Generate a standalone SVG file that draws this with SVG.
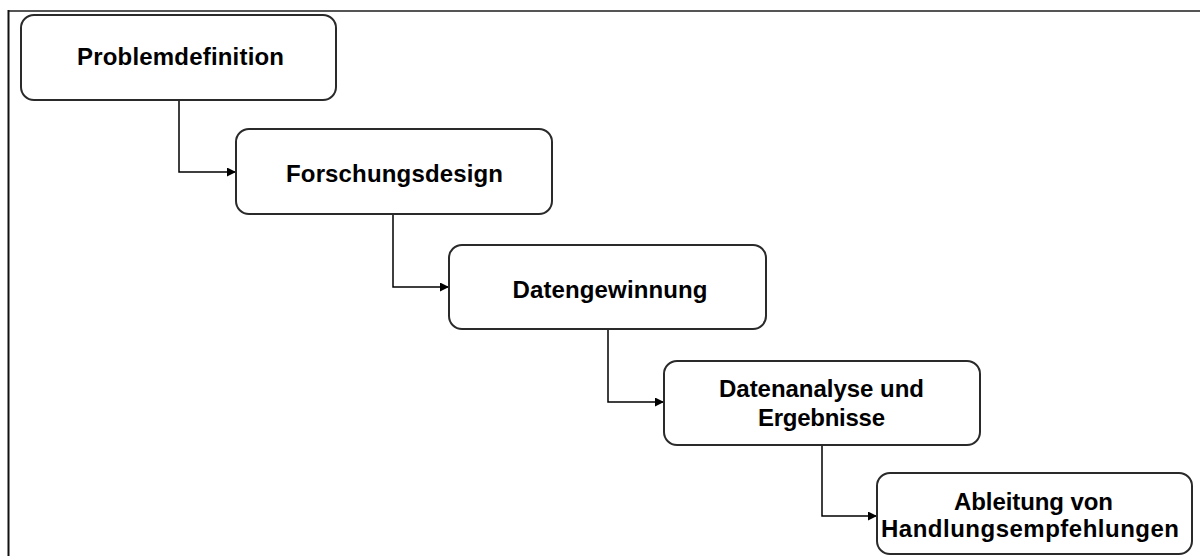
<svg xmlns="http://www.w3.org/2000/svg" width="1200" height="556" viewBox="0 0 1200 556">
<defs>
<style>
.box{fill:#fff;stroke:#2a2a2a;stroke-width:2}
.lbl{font-family:"Liberation Sans",Arial,sans-serif;font-weight:bold;font-size:24px;fill:#000;text-anchor:middle}
.con{fill:none;stroke:#000;stroke-width:1.5}
</style>
<marker id="arr" viewBox="0 0 10 10" refX="10" refY="5" markerWidth="10" markerHeight="9" markerUnits="userSpaceOnUse" orient="auto">
<path d="M0 0 L10 5 L0 10 Z" fill="#000"/>
</marker>
</defs>
<rect width="1200" height="556" fill="#fff"/>
<g id="frame">
<line x1="8" y1="11" x2="1200" y2="11" stroke="#555" stroke-width="2"/>
<line x1="8.5" y1="10" x2="8.5" y2="556" stroke="#111" stroke-width="2"/>
</g>
<g id="connectors">
<path class="con" d="M179 100 V172 H236" marker-end="url(#arr)"/>
<path class="con" d="M393 214 V287 H449" marker-end="url(#arr)"/>
<path class="con" d="M608 329 V402 H664" marker-end="url(#arr)"/>
<path class="con" d="M822 445 V516 H877" marker-end="url(#arr)"/>
</g>
<g id="n1">
<rect class="box" x="21" y="15" width="315" height="85" rx="13"/>
<text class="lbl" x="180.5" y="65" textLength="207">Problemdefinition</text>
</g>
<g id="n2">
<rect class="box" x="236" y="129" width="316" height="85" rx="13"/>
<text class="lbl" x="394.5" y="182" textLength="217">Forschungsdesign</text>
</g>
<g id="n3">
<rect class="box" x="449" y="245" width="317" height="84" rx="13"/>
<text class="lbl" x="610" y="298" textLength="195">Datengewinnung</text>
</g>
<g id="n4">
<rect class="box" x="664" y="361" width="316" height="84" rx="13"/>
<text class="lbl" x="821.5" y="397" textLength="205">Datenanalyse und</text>
<text class="lbl" x="821.5" y="426" textLength="127">Ergebnisse</text>
</g>
<g id="n5">
<rect class="box" x="877" y="473" width="315" height="81" rx="13"/>
<text class="lbl" x="1033.5" y="510" textLength="159">Ableitung von</text>
<text class="lbl" x="1030" y="537" textLength="298">Handlungsempfehlungen</text>
</g>
</svg>
